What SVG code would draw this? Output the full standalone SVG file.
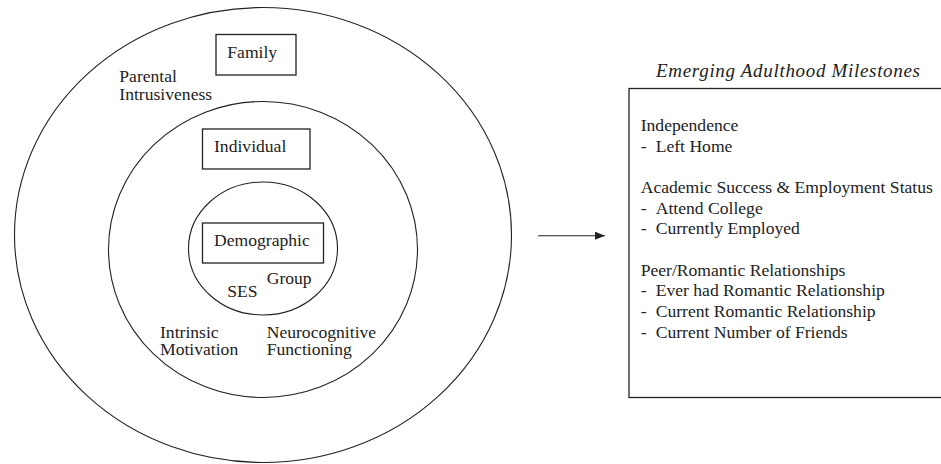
<svg xmlns="http://www.w3.org/2000/svg" width="941" height="464" viewBox="0 0 941 464">
<style>
  .ln { fill: none; stroke: #222; stroke-width: 1.1; }
  .bx { fill: none; stroke: #222; stroke-width: 1.3; }
  text { font-family: "Liberation Serif", "Times New Roman", serif; font-size: 17.6px; fill: #222; }
  .ti { font-style: italic; font-size: 19px; }
</style>
<defs>
  <marker id="ah" viewBox="0 0 10 8" refX="10" refY="4" markerWidth="10" markerHeight="8" markerUnits="userSpaceOnUse" orient="auto">
    <path d="M0,0 L10,4 L0,8 Z" fill="#222"/>
  </marker>
</defs>
<rect width="941" height="464" fill="#fff"/>

<g id="family">
  <ellipse class="ln" cx="263" cy="235" rx="248.5" ry="227.5"/>
  <rect class="bx" x="216" y="34.5" width="80" height="40.5"/>
  <text x="227.3" y="58.3">Family</text>
  <text x="119.3" y="81.7">Parental</text>
  <text x="119.3" y="100">Intrusiveness</text>
</g>

<g id="individual">
  <ellipse class="ln" cx="263" cy="249.5" rx="154.5" ry="148"/>
  <rect class="bx" x="202.5" y="129" width="107.5" height="40"/>
  <text x="214" y="151.7">Individual</text>
  <text x="160" y="337.7">Intrinsic</text>
  <text x="160" y="355.3">Motivation</text>
  <text x="266.7" y="337.7">Neurocognitive</text>
  <text x="266.7" y="355.3">Functioning</text>
</g>

<g id="demographic">
  <ellipse class="ln" cx="263" cy="248.5" rx="74.5" ry="66.5"/>
  <rect class="bx" x="202.5" y="223" width="121" height="40"/>
  <text x="214" y="246">Demographic</text>
  <text x="266.7" y="284">Group</text>
  <text x="227.3" y="296.7">SES</text>
</g>

<g id="connectors">
  <line class="ln" x1="538" y1="235.7" x2="605" y2="235.7" marker-end="url(#ah)"/>
</g>

<g id="milestones">
  <text class="ti" x="656" y="76.7" textLength="264" lengthAdjust="spacing">Emerging Adulthood Milestones</text>
  <rect class="bx" x="629" y="88.5" width="330" height="309"/>
  <text x="640.7" y="131">Independence</text>
  <text x="640.7" y="151.7">-</text><text x="655.7" y="151.7">Left Home</text>
  <text x="640.7" y="193.3">Academic Success &amp; Employment Status</text>
  <text x="640.7" y="214">-</text><text x="655.7" y="214">Attend College</text>
  <text x="640.7" y="234.3">-</text><text x="655.7" y="234.3">Currently Employed</text>
  <text x="640.7" y="276">Peer/Romantic Relationships</text>
  <text x="640.7" y="296.3">-</text><text x="655.7" y="296.3">Ever had Romantic Relationship</text>
  <text x="640.7" y="316.7">-</text><text x="655.7" y="316.7">Current Romantic Relationship</text>
  <text x="640.7" y="337.5">-</text><text x="655.7" y="337.5">Current Number of Friends</text>
</g>
</svg>
